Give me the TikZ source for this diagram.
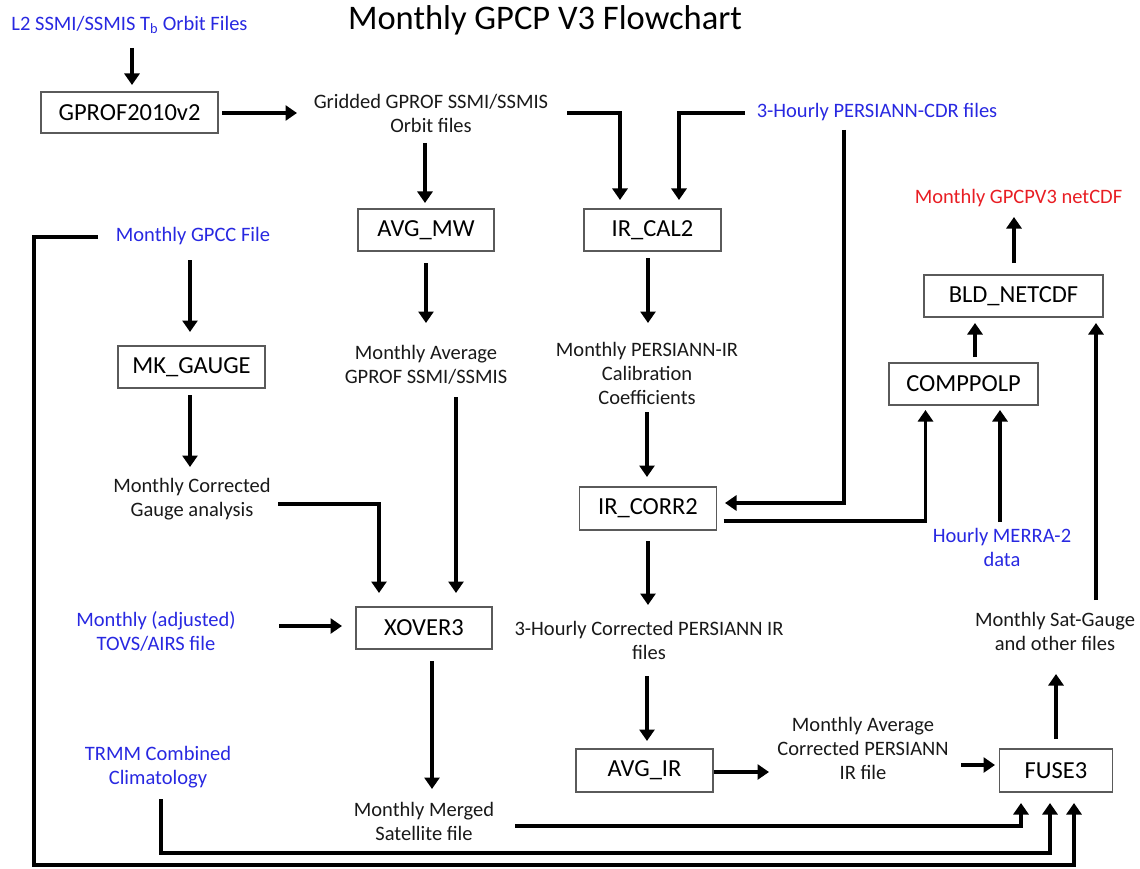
\documentclass[tikz,border=0pt]{standalone}
\usepackage{fontspec}
\setmainfont{Carlito}
\usetikzlibrary{arrows.meta}
\definecolor{lblue}{RGB}{40,40,225}
\definecolor{lred}{RGB}{232,30,36}
\definecolor{txt}{RGB}{25,25,25}
\definecolor{bordc}{RGB}{90,90,90}
\tikzset{
  txtnode/.style={inner sep=0pt, align=center, text=txt, font=\fontsize{20.5}{24}\selectfont},
  bluenode/.style={txtnode, text=lblue},
  rednode/.style={txtnode, text=lred},
  procbox/.style={draw=bordc, line width=1.3pt, fill=white, inner sep=0pt, text=black,
    font=\fontsize{24.5}{29}\selectfont, minimum height=42pt},
  arr/.style={line width=3.3pt, line join=miter, -{Triangle[width=15pt,length=11.5pt]}}
}
\begin{document}
\begin{tikzpicture}[x=1pt,y=-1pt]
\useasboundingbox (0,0) rectangle (1140,869);
% title
\node[inner sep=0pt, font=\fontsize{34.5}{40}\selectfont, text=black] (title) at (545,20) {Monthly GPCP V3 Flowchart};
% text nodes
\node[bluenode] (l2) at (129.5,25) {L2 SSMI/SSMIS T\textsubscript{b} Orbit Files};
\node[txtnode] (grid) at (431,113.5) {Gridded GPROF SSMI/SSMIS\\Orbit files};
\node[bluenode] (persc) at (877,112) {3-Hourly PERSIANN-CDR files};
\node[bluenode] (gpcc) at (193,236) {Monthly GPCC File};
\node[txtnode] (mcg) at (192,499.5) {Monthly Corrected\\Gauge analysis};
\node[txtnode] (mavg) at (426,364.5) {Monthly Average\\GPROF SSMI/SSMIS};
\node[txtnode] (mpir) at (647,373) {Monthly PERSIANN-IR\\Calibration\\Coefficients};
\node[rednode] (netcdf) at (1018.5,198) {Monthly GPCPV3 netCDF};
\node[bluenode] (merra) at (1002,547) {Hourly MERRA-2\\data};
\node[bluenode] (tovs) at (156,631.5) {Monthly (adjusted)\\TOVS/AIRS file};
\node[txtnode] (h3c) at (649,640.5) {3-Hourly Corrected PERSIANN IR\\files};
\node[txtnode] (satg) at (1055,631) {Monthly Sat-Gauge\\and other files};
\node[bluenode] (trmm) at (158,767) {TRMM Combined\\Climatology};
\node[txtnode] (mavgc) at (863,748.5) {Monthly Average\\Corrected PERSIANN\\IR file};
\node[txtnode] (mms) at (424,821) {Monthly Merged\\Satellite file};
% process boxes
\node[procbox, minimum width=177pt, minimum height=41pt] (gprof) at (129.5,112.5) {GPROF2010v2};
\node[procbox, minimum width=136pt] (avgmw) at (426,230) {AVG\_MW};
\node[procbox, minimum width=137pt] (ircal) at (652.5,230) {IR\_CAL2};
\node[procbox, minimum width=147pt] (mkg) at (191.5,367) {MK\_GAUGE};
\node[procbox, minimum width=137pt, minimum height=43pt] (ircorr) at (648,508.5) {IR\_CORR2};
\node[procbox, minimum width=179pt] (bld) at (1013.5,296) {BLD\_NETCDF};
\node[procbox, minimum width=149pt] (comp) at (963.5,384) {COMPPOLP};
\node[procbox, minimum width=136pt] (xover) at (424,628) {XOVER3};
\node[procbox, minimum width=137pt, minimum height=43pt] (avgir) at (644.5,770.5) {AVG\_IR};
\node[procbox, minimum width=113pt, minimum height=43pt] (fuse) at (1056,770.5) {FUSE3};
% bend points
\coordinate (trmmc) at (161,853);
\coordinate (gpccA) at (34,237);
\coordinate (gpccB) at (34,865);
% connectors
\draw[arr] ([xshift=2.5pt,yshift=-23pt]l2.center) -- ([xshift=2.5pt,yshift=27.5pt]gprof.center);
\draw[arr] ([xshift=92.5pt,yshift=-0.5pt]gprof.center) -- ([xshift=-134pt,yshift=0.5pt]grid.center);
\draw[arr] ([xshift=-6pt,yshift=-29.5pt]grid.center) -- ([xshift=-1pt,yshift=27pt]avgmw.center);
\draw[arr] ([xshift=136pt,yshift=0.5pt]grid.center) -| ([xshift=-32.5pt,yshift=30pt]ircal.center);
\draw[arr] ([xshift=-132pt,yshift=-1pt]persc.center) -| ([xshift=26.5pt,yshift=30pt]ircal.center);
\draw[arr] ([yshift=-33pt]avgmw.center) -- ([yshift=41.5pt]mavg.center);
\draw[arr] ([xshift=-4.5pt,yshift=-28pt]ircal.center) -- ([xshift=1pt,yshift=50pt]mpir.center);
\draw[arr] ([xshift=-3pt,yshift=-24pt]gpcc.center) -- ([xshift=-1.5pt,yshift=35pt]mkg.center);
\draw[arr] ([xshift=-1.5pt,yshift=-28pt]mkg.center) -- ([xshift=-2pt,yshift=32.5pt]mcg.center);
\draw[arr] ([yshift=-39pt]mpir.center) -- ([xshift=-1pt,yshift=31.5pt]ircorr.center);
\draw[arr] ([xshift=-33pt,yshift=-18pt]persc.center) |- ([xshift=77pt,yshift=5.5pt]ircorr.center);
\draw[arr] ([xshift=75.5pt,yshift=-12.5pt]ircorr.center) -| ([xshift=-38pt,yshift=-26pt]comp.center);
\draw[arr] ([xshift=-2pt,yshift=25pt]merra.center) -- ([xshift=36.5pt,yshift=-26pt]comp.center);
\draw[arr] ([xshift=11.5pt,yshift=27pt]comp.center) -- ([xshift=-38.5pt,yshift=-27pt]bld.center);
\draw[arr] ([xshift=0.5pt,yshift=33pt]bld.center) -- ([xshift=-4.5pt,yshift=-19pt]netcdf.center);
\draw[arr] ([xshift=41pt,yshift=31pt]satg.center) -- ([xshift=82.5pt,yshift=-27pt]bld.center);
\draw[arr] ([xshift=86pt,yshift=-4.5pt]mcg.center) -| ([xshift=-45pt,yshift=35pt]xover.center);
\draw[arr] ([xshift=30pt,yshift=-32.5pt]mavg.center) -- ([xshift=32pt,yshift=35pt]xover.center);
\draw[arr] ([xshift=123pt,yshift=5.5pt]tovs.center) -- ([xshift=-82pt,yshift=2pt]xover.center);
\draw[arr] ([xshift=8pt,yshift=-33pt]xover.center) -- ([xshift=8pt,yshift=32pt]mms.center);
\draw[arr] ([yshift=-32.5pt]ircorr.center) -- ([xshift=-1pt,yshift=35.5pt]h3c.center);
\draw[arr] ([xshift=-2pt,yshift=-35.5pt]h3c.center) -- ([xshift=2.5pt,yshift=29.5pt]avgir.center);
\draw[arr] ([xshift=69.5pt,yshift=-1.5pt]avgir.center) -- ([xshift=-94pt,yshift=-23.5pt]mavgc.center);
\draw[arr] ([xshift=98pt,yshift=-16.5pt]mavgc.center) -- ([xshift=-61pt,yshift=5.5pt]fuse.center);
\draw[arr] ([yshift=31.5pt]fuse.center) -- ([xshift=1pt,yshift=-43pt]satg.center);
\draw[arr] ([xshift=91pt,yshift=-5pt]mms.center) -| ([xshift=-35pt,yshift=-32.5pt]fuse.center);
\draw[arr] ([xshift=3pt,yshift=-32pt]trmm.center) -- (trmmc) -| ([xshift=-6pt,yshift=-32.5pt]fuse.center);
\draw[arr] ([xshift=-95pt,yshift=-1pt]gpcc.center) -- (gpccA) -- (gpccB) -| ([xshift=18pt,yshift=-32.5pt]fuse.center);
\end{tikzpicture}
\end{document}
